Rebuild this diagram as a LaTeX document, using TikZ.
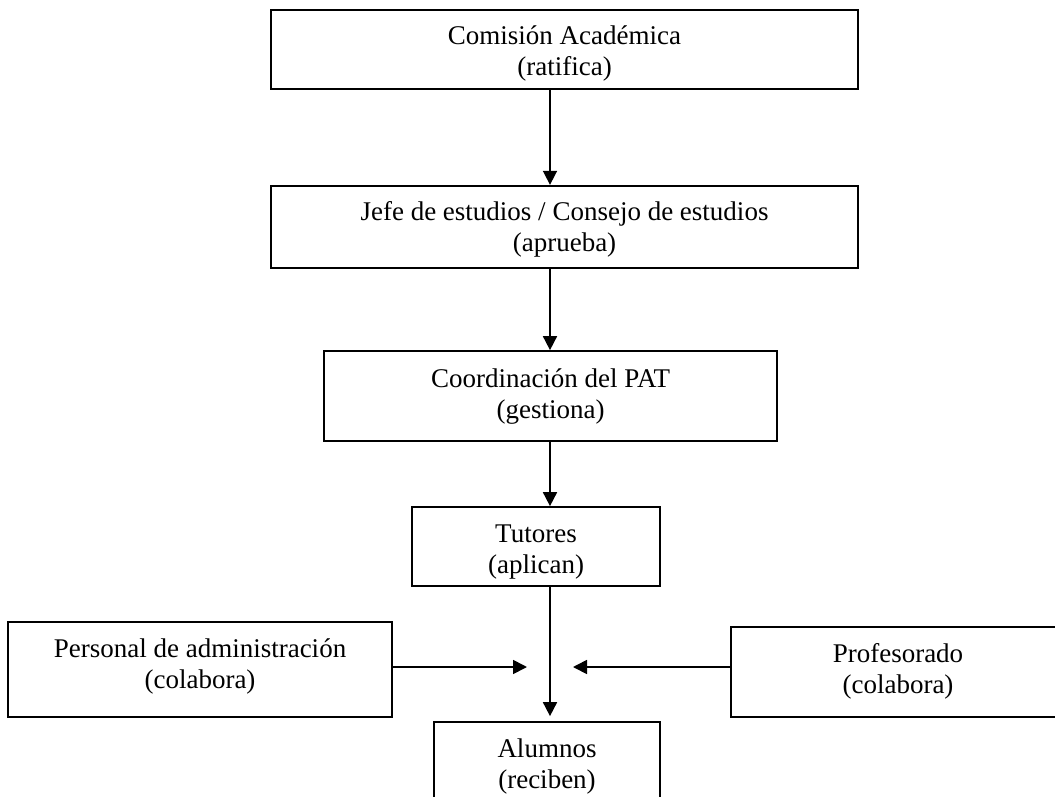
\documentclass[tikz,border=0pt]{standalone}
\usepackage{fontspec}
\setmainfont{Liberation Serif}
\usetikzlibrary{arrows.meta}
\begin{document}
\begin{tikzpicture}[x=1pt,y=-1pt,
  box/.style={draw=black, line width=1.7pt, rectangle, inner sep=0pt},
  txt/.style={anchor=base, inner sep=0pt, font=\fontsize{27}{31}\selectfont},
  arr/.style={line width=1.7pt, -{Triangle[length=14pt,width=14pt]}}]
\useasboundingbox (0,0) rectangle (1055,797);
% boxes
\node[box, minimum width=587pt, minimum height=79pt] (b1) at (564.5,49.3) {};
\node[box, minimum width=587pt, minimum height=82pt] (b2) at (564.5,226.7) {};
\node[box, minimum width=453pt, minimum height=90pt] (b3) at (550.5,396) {};
\node[box, minimum width=248pt, minimum height=79pt] (b4) at (536,546.5) {};
\node[box, minimum width=384pt, minimum height=95pt] (pa) at (200,669.5) {};
\node[box, minimum width=334pt, minimum height=90pt] (pr) at (898,672) {};
\node[box, minimum width=226pt, minimum height=90pt] (al) at (547,767) {};
% texts
\node[txt] (t1a) at (564.5,45) {Comisión Académica};
\node[txt] (t1b) at (564.5,76) {(ratifica)};
\node[txt] (t2a) at (564.5,220) {Jefe de estudios / Consejo de estudios};
\node[txt] (t2b) at (564.5,251) {(aprueba)};
\node[txt] (t3a) at (550.5,387) {Coordinación del PAT};
\node[txt] (t3b) at (550.5,418) {(gestiona)};
\node[txt] (t4a) at (536,542.7) {Tutores};
\node[txt] (t4b) at (536,573.7) {(aplican)};
\node[txt] (tpa) at (200,657) {Personal de administración};
\node[txt] (tpb) at (200,688) {(colabora)};
\node[txt] (tra) at (898,662) {Profesorado};
\node[txt] (trb) at (898,693) {(colabora)};
\node[txt] (tla) at (547,757) {Alumnos};
\node[txt] (tlb) at (547,788) {(reciben)};
% connectors
\coordinate (ax) at (550,0);
\coordinate (pl) at (527,667);
\coordinate (pq) at (573,667);
\draw[arr] (b1.south -| ax) -- (b2.north -| ax);
\draw[arr] (b2.south -| ax) -- (b3.north -| ax);
\draw[arr] (b3.south -| ax) -- (b4.north -| ax);
\draw[arr, shorten >=5pt] (b4.south -| ax) -- (al.north -| ax);
\draw[arr] (pa.east |- pl) -- (pl);
\draw[arr] (pr.west |- pq) -- (pq);
\end{tikzpicture}
\end{document}
